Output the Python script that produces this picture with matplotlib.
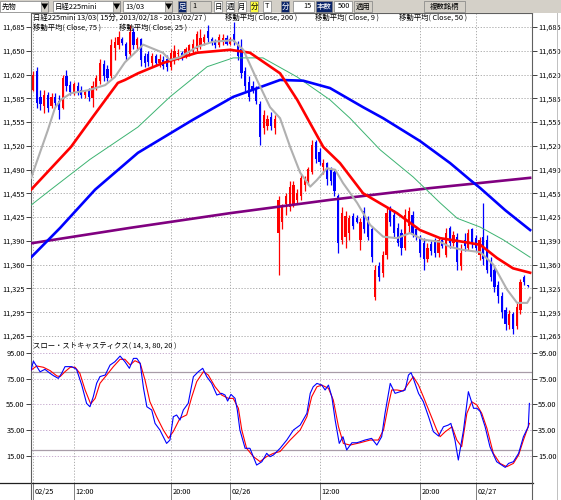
import matplotlib
matplotlib.use("Agg")
import matplotlib.pyplot as plt
from matplotlib.patches import Rectangle
import numpy as np

plt.rcParams['font.family'] = ['Noto Sans CJK JP', 'DejaVu Sans']

W, H = 561, 500

# 15-minute candles, 日経225mini 13/03 (bar index 0..133)
opens = [11600, 11625, 11590, 11578, 11592, 11577, 11590, 11585, 11575, 11618,
         11606, 11596, 11605, 11600, 11592, 11598, 11588, 11603, 11612, 11635,
         11628, 11618, 11656, 11660, 11668, 11662, 11648, 11678, 11660, 11668,
         11645, 11648, 11636, 11645, 11636, 11640, 11642, 11630, 11640, 11648,
         11650, 11645, 11650, 11652, 11655, 11660, 11665, 11680, 11668, 11666,
         11660, 11664, 11670, 11662, 11676, 11662, 11655, 11625, 11610, 11605,
         11600, 11580, 11548, 11550, 11562, 11548, 11405, 11420, 11445, 11440,
         11445, 11450, 11455, 11470, 11475, 11488, 11528, 11515, 11495, 11500,
         11490, 11488, 11455, 11395, 11400, 11405, 11428, 11425, 11395, 11435,
         11420, 11410, 11318, 11360, 11350, 11375, 11438, 11430, 11412, 11405,
         11385, 11415, 11430, 11410, 11400, 11392, 11370, 11390, 11395, 11378,
         11395, 11375, 11412, 11392, 11400, 11360, 11395, 11385, 11410, 11398,
         11375, 11400, 11395, 11365, 11355, 11335, 11320, 11300, 11280, 11295,
         11278, 11300, 11345, 11334]
highs = [11625, 11630, 11600, 11600, 11597, 11595, 11595, 11592, 11620, 11627,
         11612, 11610, 11610, 11605, 11600, 11602, 11612, 11620, 11642, 11640,
         11633, 11668, 11672, 11680, 11672, 11665, 11688, 11684, 11672, 11670,
         11650, 11652, 11650, 11648, 11648, 11645, 11647, 11655, 11660, 11655,
         11653, 11658, 11662, 11668, 11680, 11682, 11676, 11688, 11672, 11668,
         11676, 11675, 11674, 11672, 11692, 11666, 11668, 11630, 11618, 11612,
         11605, 11585, 11572, 11565, 11570, 11566, 11455, 11445, 11460, 11475,
         11476, 11465, 11485, 11482, 11495, 11532, 11532, 11520, 11505, 11502,
         11495, 11490, 11458, 11440, 11435, 11430, 11432, 11430, 11425, 11440,
         11428, 11415, 11362, 11365, 11380, 11440, 11442, 11436, 11418, 11410,
         11438, 11440, 11435, 11415, 11402, 11398, 11392, 11395, 11398, 11400,
         11398, 11412, 11415, 11408, 11405, 11390, 11405, 11410, 11412, 11402,
         11400, 11446, 11402, 11372, 11360, 11340, 11325, 11305, 11300, 11298,
         11310, 11342, 11348, 11335]
lows = [11598, 11575, 11572, 11568, 11570, 11575, 11577, 11560, 11573, 11598,
        11593, 11592, 11592, 11588, 11588, 11585, 11576, 11600, 11608, 11612,
        11612, 11615, 11640, 11655, 11660, 11640, 11645, 11655, 11655, 11632,
        11630, 11632, 11630, 11632, 11630, 11628, 11625, 11626, 11635, 11640,
        11640, 11643, 11645, 11648, 11652, 11655, 11660, 11665, 11660, 11657,
        11658, 11660, 11660, 11660, 11660, 11640, 11615, 11598, 11585, 11595,
        11580, 11525, 11540, 11545, 11545, 11540, 11348, 11410, 11430, 11435,
        11440, 11445, 11450, 11462, 11470, 11485, 11500, 11498, 11485, 11470,
        11470, 11455, 11378, 11390, 11385, 11395, 11410, 11418, 11382, 11405,
        11395, 11365, 11314, 11340, 11345, 11370, 11415, 11398, 11388, 11375,
        11382, 11405, 11400, 11395, 11372, 11355, 11365, 11375, 11372, 11372,
        11385, 11372, 11385, 11388, 11355, 11355, 11380, 11382, 11385, 11380,
        11368, 11362, 11350, 11340, 11325, 11310, 11290, 11273, 11275, 11268,
        11275, 11295, 11335, 11332]
closes = [11620, 11582, 11580, 11592, 11575, 11590, 11582, 11572, 11615, 11605,
          11597, 11607, 11596, 11592, 11597, 11590, 11605, 11615, 11636, 11618,
          11616, 11660, 11665, 11672, 11663, 11645, 11678, 11660, 11668, 11640,
          11636, 11638, 11646, 11636, 11642, 11632, 11630, 11650, 11652, 11650,
          11645, 11655, 11660, 11662, 11675, 11670, 11672, 11670, 11664, 11660,
          11672, 11670, 11662, 11668, 11664, 11645, 11622, 11605, 11590, 11598,
          11585, 11535, 11565, 11560, 11550, 11560, 11450, 11440, 11455, 11468,
          11470, 11460, 11480, 11478, 11492, 11525, 11505, 11502, 11500, 11478,
          11475, 11462, 11392, 11432, 11428, 11425, 11415, 11420, 11420, 11410,
          11400, 11372, 11355, 11345, 11375, 11432, 11420, 11405, 11392, 11385,
          11430, 11435, 11405, 11400, 11378, 11370, 11385, 11380, 11378, 11395,
          11388, 11405, 11392, 11402, 11365, 11378, 11388, 11405, 11390, 11385,
          11395, 11370, 11355, 11345, 11332, 11320, 11298, 11282, 11295, 11275,
          11305, 11338, 11338, 11333]

# moving averages, read at bar positions
ma200_x = [-0.5, 26.1, 53.0, 79.8, 106.7, 120.2, 133.6]
ma200 = [11391, 11412, 11432, 11450, 11466, 11473, 11480]

ma75_x = [-0.5, 7.3, 16.7, 28.2, 43.0, 53.8, 66.4, 72.6, 79.8, 88.7, 94.1,
          104.0, 112.1, 117.5, 120.2, 126.9, 133.6]
ma75 = [11372, 11412, 11464, 11514, 11559, 11590, 11613, 11612, 11602, 11576,
        11561, 11530, 11500, 11477, 11466, 11436, 11409]

ma50_x = [-0.5, 4.8, 15.3, 28.2, 36.8, 46.8, 53.8, 61.8, 71.0, 79.8, 85.2,
          93.3, 102.2, 109.4, 114.0, 120.2, 126.3, 133.6]
ma50 = [11443, 11464, 11505, 11549, 11590, 11631, 11643, 11643, 11617, 11586,
        11561, 11518, 11481, 11446, 11425, 11413, 11396, 11372]

ma25_x = [-0.5, 10.2, 16.1, 22.8, 24.7, 28.2, 34.9, 44.1, 53.0, 58.3, 66.4,
          71.0, 78.0, 82.5, 88.7, 97.8, 104.0, 109.4, 115.6, 120.2, 124.7,
          129.0, 133.6]
ma25 = [11464, 11522, 11563, 11609, 11613, 11622, 11636, 11650, 11654, 11650,
        11622, 11586, 11522, 11500, 11459, 11432, 11409, 11398, 11393, 11389,
        11371, 11357, 11351]

ma9_x = [-0.5, 4.0, 5.9, 7.5, 10.2, 14.8, 19.4, 22.0, 24.7, 28.2, 29.6, 34.9,
         36.8, 39.5, 44.1, 48.4, 53.8, 56.5, 60.2, 63.7, 66.4, 69.1, 71.8,
         74.5, 76.3, 79.0, 81.2, 83.3, 87.1, 90.6, 94.1, 97.8, 101.3, 104.8,
         109.4, 112.1, 115.6, 120.2, 123.7, 127.4, 130.1, 132.8, 133.6]
ma9 = [11480, 11545, 11575, 11586, 11595, 11599, 11606, 11617, 11637, 11654,
       11661, 11650, 11640, 11644, 11658, 11665, 11667, 11654, 11613, 11576,
       11561, 11522, 11487, 11468, 11477, 11493, 11491, 11473, 11446, 11416,
       11400, 11398, 11405, 11396, 11393, 11386, 11382, 11379, 11362, 11328,
       11310, 11310, 11317]

# slow stochastics (14, 3, 80, 20)
k_x = [-0.5, 0.1, 1.9, 3.2, 4.6, 5.5, 6.8, 7.7, 8.6, 10.4,
       11.7, 13.1, 14.4, 15.3, 16.2, 17.1, 18.0, 19.4, 20.7, 22.0,
       23.4, 24.7, 25.9, 27.0, 27.9, 28.8, 29.7, 30.6, 31.9, 32.8,
       34.1, 35.9, 36.8, 37.7, 38.6, 39.5, 40.4, 41.7, 43.1, 44.4,
       45.6, 46.7, 48.0, 49.4, 50.7, 51.6, 52.3, 53.2, 54.3, 54.9,
       55.6, 57.0, 58.3, 60.1, 61.5, 62.8, 63.7, 64.6, 66.4, 68.2,
       70.0, 71.8, 73.6, 74.5, 75.3, 76.3, 77.6, 78.5, 79.4, 80.3,
       81.2, 82.3, 83.3, 84.3, 85.7, 87.0, 87.9, 89.2, 91.0, 92.4,
       93.7, 94.6, 96.0, 97.3, 98.7, 100.0, 100.9, 101.6, 102.2, 103.6,
       104.9, 106.3, 107.6, 109.0, 110.3, 111.6, 112.3, 113.4, 114.3, 115.7,
       117.0, 118.4, 119.3, 120.2, 121.5, 122.8, 124.6, 126.9, 127.8, 129.1,
       130.5, 131.8, 133.1, 133.4]
k_val = [81.7, 88.6, 80.3, 82.2, 79.1, 77.3, 75.2, 79.1, 84.3, 84.3,
         82.2, 70, 55.8, 53.2, 61, 71.4, 76.6, 77.8, 85.5, 88.1,
         92.5, 88.1, 83, 90.7, 90.7, 86.8, 67.5, 53.2, 50.7, 40.3,
         35.2, 24.8, 27.4, 45.5, 46.8, 42.9, 50.7, 55.8, 76.5, 80.3,
         83, 76.5, 71.4, 62.3, 63.6, 62.3, 57.6, 62.8, 59.7, 50.7,
         35.2, 21, 21, 8, 10.6, 17.1, 14.5, 15.8, 21, 27.4,
         35.2, 39, 48.1, 63.6, 68.7, 71.3, 70, 66.2, 70, 61,
         42.9, 24.8, 30, 19.7, 25.3, 25.3, 26.1, 27.4, 28.7, 23.5,
         30, 48.1, 71.3, 63.6, 64.9, 66.2, 77.8, 79.6, 75.2, 63.6,
         57.1, 45.5, 33.9, 30.5, 37.7, 39, 40.3, 27.4, 11.9, 35.2,
         64.9, 52, 52, 49.4, 37.7, 22.2, 10.6, 6.2, 9.3, 10.6,
         17.1, 30, 37.7, 55.8]
d_x = [-0.5, 1.0, 2.8, 4.6, 6.4, 7.3, 8.6, 10.0, 11.3, 12.6,
       14.0, 15.5, 16.7, 18.0, 19.8, 21.6, 23.4, 24.7, 26.1, 27.4,
       28.8, 30.1, 31.4, 33.2, 35.0, 36.4, 37.7, 39.5, 41.3, 42.7,
       44.0, 45.8, 47.1, 48.9, 50.7, 52.5, 53.8, 55.2, 56.1, 57.4,
       59.2, 61.0, 62.8, 64.6, 66.4, 69.1, 71.8, 73.6, 74.9, 76.3,
       77.6, 79.4, 80.7, 82.1, 83.4, 85.2, 87.9, 90.6, 92.8, 94.2,
       95.5, 96.4, 97.8, 99.5, 100.9, 102.2, 103.6, 104.9, 106.7, 108.5,
       109.4, 110.8, 112.6, 113.9, 115.2, 116.6, 117.9, 119.3, 120.6, 122.0,
       123.7, 125.5, 127.3, 129.1, 130.5, 131.8, 133.4]
d_val = [81.7, 84.8, 83.8, 81.2, 77.1, 76.6, 80.4, 83.8, 83.8, 79.1,
         66.2, 55.4, 59.7, 71.4, 77.8, 84.3, 90, 90, 85.6, 88.9,
         86.9, 74, 57.2, 45.6, 35.3, 28.8, 34, 44.3, 46.9, 61.1,
         72.7, 80.4, 77.8, 68.8, 62.3, 59.7, 59.7, 52, 35.3, 21,
         14.6, 10.7, 14.6, 17.1, 18.5, 27.4, 35.2, 45.5, 61, 68.7,
         70, 67.5, 58.4, 37.7, 24.8, 23.5, 25.3, 27.4, 27.4, 35.2,
         54.5, 66.2, 66.2, 65.4, 71.3, 76.5, 70, 61, 48.1, 35.2,
         30, 33.9, 37.7, 27.4, 22.2, 48.1, 57.1, 54.5, 48.1, 36.4,
         17.1, 9.3, 6.7, 9.3, 15.8, 27.4, 40.3]

price_labels = ['11,265', '11,295', '11,325', '11,360', '11,390', '11,425', '11,455',
                '11,490', '11,520', '11,555', '11,585', '11,620', '11,650', '11,685']
stoch_ticks = [95, 75, 55, 35, 15]
time_idx = [0, 11, 37, 53, 77, 104, 119]
time_labels = ['02/25', '12:00', '20:00', '02/26', '12:00', '20:00', '02/27']

fig = plt.figure(figsize=(W / 100, H / 100), dpi=100)
fig.patch.set_facecolor('white')


def fx(px):
    return px / W


def fy(py):
    return 1 - py / H


ax = fig.add_axes([fx(31), fy(338), fx(532) - fx(31), fy(13) - fy(338)])
ax2 = fig.add_axes([fx(31), fy(483), fx(532) - fx(31), fy(338) - fy(483)])

xlim = (-0.54, 134.1)
fs = 5.3

# ---- price panel
o = np.array(opens)
c = np.array(closes)
idx = np.arange(len(c))
col = np.where(c >= o, '#ff0000', '#0000ff')
ax.vlines(idx, lows, highs, colors=col, linewidth=0.9, zorder=2)
ax.bar(idx, np.maximum(np.abs(c - o), 2), bottom=np.minimum(o, c), width=0.6,
       color=col, linewidth=0, zorder=2)

ax.plot(ma200_x, ma200, color='#800080', lw=1.9, zorder=3)
ax.plot(ma50_x, ma50, color='#3cb371', lw=0.7, zorder=3)
ax.plot(ma75_x, ma75, color='#0000ff', lw=1.9, zorder=3)
ax.plot(ma25_x, ma25, color='#ff0000', lw=1.9, zorder=3)
ax.plot(ma9_x, ma9, color='#b0b0b0', lw=1.5, zorder=3)

ax.set_xlim(*xlim)
ax.set_ylim(11262.3, 11704)
yt = np.linspace(11265, 11685, 14)
ax.set_yticks(yt)
ax.set_yticklabels(price_labels)
ax.set_xticks(time_idx)
ax.tick_params(axis='x', bottom=False, labelbottom=False)
ax.tick_params(axis='y', left=True, right=True, labelleft=True, labelright=True,
               labelsize=fs, length=3.5, width=0.7, color='#404040', pad=1)
ax.grid(True, color='#a0a0a0', linestyle=(0, (1.5, 2)), linewidth=0.6)
ax.set_axisbelow(True)
ax.spines['bottom'].set_visible(False)
for s in ['left', 'right', 'top']:
    ax.spines[s].set_color('#606060')
    ax.spines[s].set_linewidth(0.8)

pw = 501.0
ax.text(2 / pw, 0.997, '日経225mini 13/03( 15分, 2013/02/18 - 2013/02/27 )',
        transform=ax.transAxes, fontsize=fs, va='top')
ax.text((225 - 31) / pw, 0.997, '移動平均( Close, 200 )',
        transform=ax.transAxes, fontsize=fs, va='top')
ax.text((315 - 31) / pw, 0.997, '移動平均( Close, 9 )',
        transform=ax.transAxes, fontsize=fs, va='top')
ax.text((399 - 31) / pw, 0.997, '移動平均( Close, 50 )',
        transform=ax.transAxes, fontsize=fs, va='top')
ax.text(2 / pw, 0.966, '移動平均( Close, 75 )',
        transform=ax.transAxes, fontsize=fs, va='top')
ax.text((119 - 31) / pw, 0.966, '移動平均( Close, 25 )',
        transform=ax.transAxes, fontsize=fs, va='top')

# ---- stochastics panel
ax2.plot(d_x, d_val, color='#ff0000', lw=0.8, zorder=3)
ax2.plot(k_x, k_val, color='#0000ff', lw=0.8, zorder=3)
ax2.axhline(80, color='#a89ca8', lw=0.9, zorder=2)
ax2.axhline(20, color='#a89ca8', lw=0.9, zorder=2)
ax2.set_xlim(*xlim)
ax2.set_ylim(-5.9, 106.5)
ax2.set_yticks(stoch_ticks)
ax2.set_yticklabels(['%.2f' % v for v in stoch_ticks])
ax2.tick_params(axis='y', left=True, right=True, labelleft=True, labelright=True,
                labelsize=fs, length=3.5, width=0.7, color='#404040', pad=1)
ax2.set_xticks(time_idx)
ax2.set_xticklabels([])
ax2.tick_params(axis='x', length=12, width=0.7, color='#808080', direction='out')
ax2.grid(True, axis='y', color='#c0a0c8', linestyle=(0, (1.5, 2)), linewidth=0.6)
ax2.grid(True, axis='x', color='#a0a0a0', linestyle=(0, (1.5, 2)), linewidth=0.6)
ax2.set_axisbelow(True)
for s in ['top', 'bottom']:
    ax2.spines[s].set_visible(False)
for s in ['left', 'right']:
    ax2.spines[s].set_color('#606060')
    ax2.spines[s].set_linewidth(0.8)
for t, lab in zip(time_idx, time_labels):
    ax2.text(t + 0.5, -0.062, lab, transform=ax2.get_xaxis_transform(),
             fontsize=fs, ha='left', va='center')
ax2.text(2 / pw, 0.975, 'スロー・ストキャスティクス( 14, 3, 80, 20 )',
         transform=ax2.transAxes, fontsize=fs, va='top')

# frame lines running past the panels
fig.add_artist(plt.Line2D([0, fx(533)], [fy(483), fy(483)],
                          transform=fig.transFigure, color='#202020', lw=0.9))
for px in (31, 532):
    fig.add_artist(plt.Line2D([fx(px), fx(px)], [fy(483), 0],
                              transform=fig.transFigure, color='#606060', lw=0.8))

# ---- toolbar
fig.add_artist(Rectangle((0, fy(12.5)), 1, 12.5 / H, transform=fig.transFigure,
                         facecolor='#d4d0c8', edgecolor='none'))


def box(x0, x1, fc, txt='', tc='black', ha='center'):
    fig.add_artist(Rectangle((fx(x0), fy(11.5)), fx(x1) - fx(x0), 10.5 / H,
                             transform=fig.transFigure, facecolor=fc,
                             edgecolor='#808080', linewidth=0.5))
    if txt:
        tx = (x0 + x1) / 2 if ha == 'center' else (x0 + 2 if ha == 'left' else x1 - 2)
        fig.text(fx(tx), fy(6.5), txt, color=tc, fontsize=fs, ha=ha, va='center')


box(0, 48, 'white', '先物', ha='left')
box(41, 48, '#d4d0c8', '▼')
box(53, 120, 'white', '日経225mini', ha='left')
box(113, 120, '#d4d0c8', '▼')
box(123, 172, 'white', '13/03', ha='left')
box(165, 172, '#d4d0c8', '▼')
box(178, 186, '#0a246a', '足', tc='white')
box(190, 211, '#d4d0c8', '1', ha='left')
box(214, 222, 'white', '日')
box(226, 234, 'white', '週')
box(238, 246, 'white', '月')
box(250, 258, '#ffff40', '分')
box(263, 271, 'white', 'T')
box(281, 289, '#0a246a', '分', tc='white')
box(293, 314, 'white', '15', ha='right')
box(316, 332, '#0a246a', '本数', tc='white')
box(334, 352, 'white', '500', ha='right')
box(354, 372, '#d4d0c8', '適用')
box(424, 465, '#d4d0c8', '複数銘柄')

fig.add_artist(plt.Line2D([fx(557), fx(557)], [fy(13), fy(500)],
                          transform=fig.transFigure, color='#c0c0c0', lw=0.7))

fig.savefig('out.png', dpi=100)
